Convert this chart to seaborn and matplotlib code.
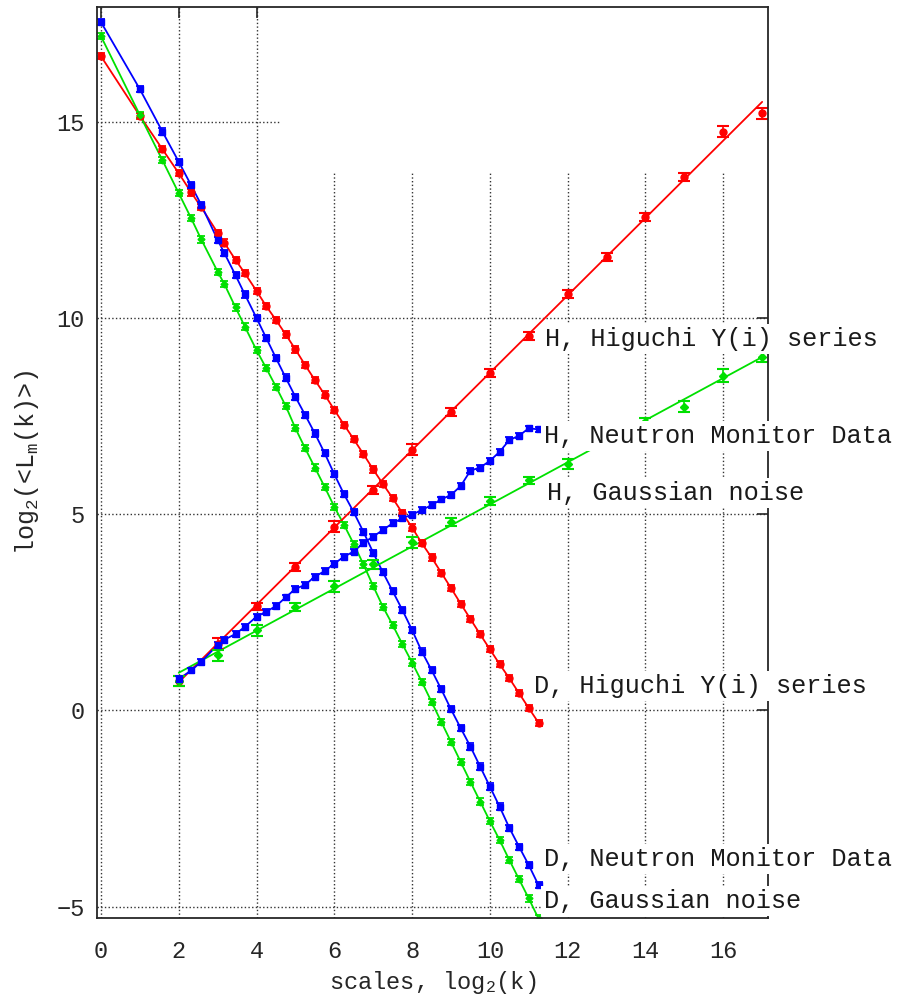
import numpy as np
import pandas as pd
import matplotlib
matplotlib.use("Agg")
import matplotlib.pyplot as plt
import seaborn as sns
from matplotlib.patches import Rectangle

# scales (log2 k) of the D curves
d_scales = [0, 1, 1.58, 2, 2.32, 2.58, 3, 3.17, 3.46, 3.70,
            4.0, 4.25, 4.5, 4.75, 5.0, 5.25, 5.5, 5.75, 6.0, 6.25,
            6.5, 6.75, 7.0, 7.25, 7.5, 7.75, 8.0, 8.25, 8.5, 8.75,
            9.0, 9.25, 9.5, 9.75, 10.0, 10.25, 10.5, 10.75, 11.0, 11.25]

d_higuchi = [16.67, 15.15, 14.30, 13.69, 13.20, 12.82, 12.17, 11.92, 11.48, 11.14,
             10.69, 10.30, 9.95, 9.58, 9.20, 8.80, 8.42, 8.05, 7.66, 7.28,
             6.91, 6.53, 6.14, 5.77, 5.41, 5.03, 4.66, 4.26, 3.90, 3.51,
             3.12, 2.72, 2.33, 1.94, 1.56, 1.18, 0.82, 0.44, 0.06, -0.31]

d_neutron = [17.54, 15.83, 14.75, 13.98, 13.38, 12.88, 11.99, 11.66, 11.09, 10.60,
             10.00, 9.49, 8.98, 8.48, 7.99, 7.53, 7.06, 6.56, 6.02, 5.51,
             5.05, 4.55, 4.02, 3.52, 3.04, 2.56, 2.05, 1.50, 1.03, 0.54,
             0.03, -0.45, -0.92, -1.43, -1.94, -2.45, -2.99, -3.47, -3.94, -4.45]

d_gauss = [17.18, 15.17, 14.02, 13.18, 12.54, 12.00, 11.18, 10.87, 10.27, 9.78,
           9.18, 8.72, 8.25, 7.76, 7.19, 6.68, 6.19, 5.70, 5.19, 4.73,
           4.24, 3.72, 3.17, 2.64, 2.18, 1.69, 1.22, 0.73, 0.22, -0.29,
           -0.80, -1.31, -1.82, -2.32, -2.82, -3.30, -3.81, -4.30, -4.79, -5.30]

# H curves
h_scales = [2, 3, 4, 5, 6, 7, 8, 9, 10, 11, 12, 13, 14, 15, 16, 17]
h_higuchi = [0.75, 1.70, 2.65, 3.66, 4.68, 5.62, 6.64, 7.61, 8.60, 9.55,
             10.62, 11.56, 12.58, 13.60, 14.75, 15.22]
h_higuchi_err = [0.12, 0.14, 0.10, 0.10, 0.14, 0.10, 0.14, 0.10, 0.10, 0.10,
                 0.10, 0.10, 0.10, 0.10, 0.14, 0.14]
h_gauss = [0.75, 1.41, 2.05, 2.64, 3.17, 3.72, 4.28, 4.81, 5.34, 5.86,
           6.28, 6.80, 7.34, 7.74, 8.53, 9.00]
h_gauss_err = [0.12, 0.14, 0.14, 0.10, 0.14, 0.12, 0.14, 0.10, 0.10, 0.10,
               0.12, 0.10, 0.12, 0.14, 0.16, 0.12]

hn_scales = d_scales[3:]
h_neutron = [0.80, 1.02, 1.24, 1.67, 1.80, 1.95, 2.13, 2.39, 2.52, 2.66,
             2.88, 3.10, 3.20, 3.41, 3.55, 3.74, 3.92, 4.05, 4.27, 4.43,
             4.60, 4.77, 4.90, 4.99, 5.11, 5.23, 5.38, 5.49, 5.72, 6.11,
             6.19, 6.36, 6.59, 6.89, 7.00, 7.19, 7.16]

label_text = ["H, Higuchi Y(i) series", "H, Neutron Monitor Data", "H, Gaussian noise",
              "D, Higuchi Y(i) series", "D, Neutron Monitor Data", "D, Gaussian noise"]
label_x = [11.42, 11.38, 11.46, 11.14, 11.38, 11.38]
label_y = [9.46, 6.99, 5.54, 0.62, -3.78, -4.85]

sns.set_style("white")
plt.rcParams['font.family'] = ['Liberation Mono', 'DejaVu Sans']
plt.rcParams['mathtext.default'] = 'regular'

red = '#ff0000'
blue = '#0000ff'
green = '#00e000'

fig = plt.figure(figsize=(9.01, 10.01), dpi=100)
ax = fig.add_axes([0.1077, 0.0832, 0.7451, 0.9101])
ax.set_axisbelow(True)

# empty key area hides the grid in the upper right
ax.add_patch(Rectangle((0.272, 0.819), 0.728, 0.181, transform=ax.transAxes,
                       facecolor='white', edgecolor='none', zorder=0.8))

# D curves: points joined by lines
for vals, col, mk, ms in [(d_higuchi, red, 'o', 5), (d_neutron, blue, 's', 4.5),
                          (d_gauss, green, 'D', 3.5)]:
    sns.lineplot(x=d_scales, y=vals, color=col, lw=1.3, ax=ax, sort=False, estimator=None)
    ax.errorbar(d_scales, vals, yerr=0.08, fmt=mk, color=col, ms=ms,
                capsize=3, elinewidth=1, capthick=1.3, zorder=2.2)

# H curves: linear fits with error bars
sns.regplot(x=h_scales, y=h_higuchi, ci=None, scatter=False, color=red,
            line_kws=dict(lw=1.3), ax=ax, truncate=True)
ax.errorbar(h_scales, h_higuchi, yerr=h_higuchi_err, fmt='o', color=red, ms=5,
            capsize=4.5, elinewidth=1.2, capthick=1.5, zorder=2.2)

sns.regplot(x=h_scales, y=h_gauss, ci=None, scatter=False, color=green,
            line_kws=dict(lw=1.3), ax=ax, truncate=True)
ax.errorbar(h_scales, h_gauss, yerr=h_gauss_err, fmt='D', color=green, ms=4,
            capsize=4.5, elinewidth=1.2, capthick=1.5, zorder=2.2)

sns.lineplot(x=hn_scales, y=h_neutron, color=blue, lw=1.3, ax=ax, sort=False, estimator=None)
ax.errorbar(hn_scales, h_neutron, yerr=0.07, fmt='s', color=blue, ms=4.5,
            capsize=3, elinewidth=1, capthick=1.3, zorder=2.2)

for t, x, y in zip(label_text, label_x, label_y):
    ax.text(x, y, t, fontsize=18.2, ha='left', va='center', zorder=5, color='0.1',
            bbox=dict(facecolor='white', edgecolor='none', pad=2))

ax.set_xlim(-0.10, 17.16)
ax.set_ylim(-5.28, 17.93)
ax.set_xticks(range(0, 17, 2))
ax.set_yticks(range(-5, 16, 5))
ax.grid(True, ls=':', color='0.2', lw=1.0)
ax.tick_params(direction='in', length=8, width=1.2, top=True, right=True, color='0.15')
ax.tick_params(axis='x', labelsize=17, pad=16)
ax.tick_params(axis='y', labelsize=17, pad=9)
for sp in ax.spines.values():
    sp.set_linewidth(1.3)
    sp.set_color('0.15')

ax.set_xlabel('scales, log$_2$(k)', fontsize=17)
ax.xaxis.set_label_coords(0.5, -0.0706)
ax.xaxis.label.set_verticalalignment('center')
ax.set_ylabel('log$_2$(<L$_m$(k)>)', fontsize=18)
ax.yaxis.set_label_coords(-0.105, 0.5)
ax.yaxis.label.set_verticalalignment('center')

fig.savefig('out.png', dpi=100)
